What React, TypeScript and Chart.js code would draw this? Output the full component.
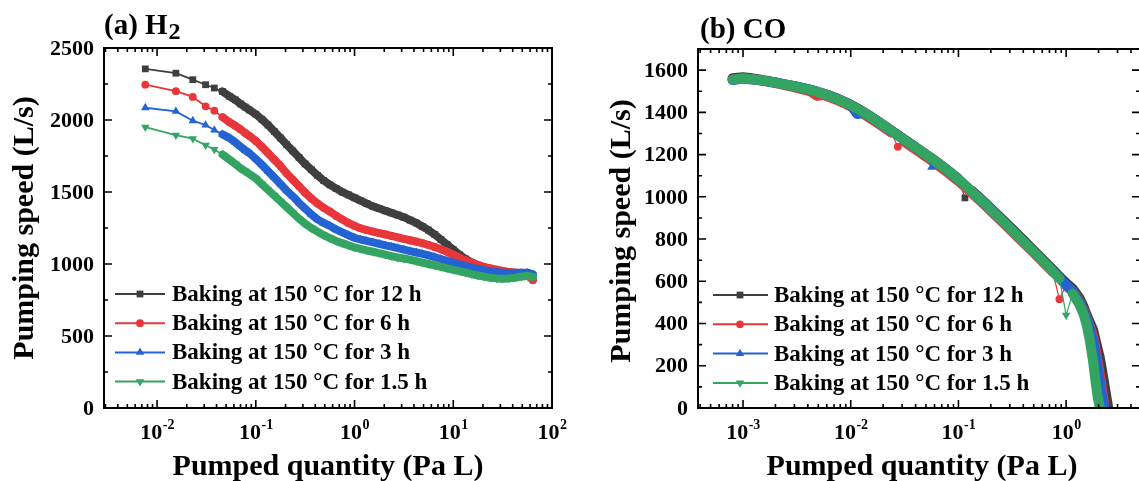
import React, { useEffect, useRef } from "react";
import { Chart, registerables } from "chart.js";

Chart.register(...registerables);

// ---------- shared series info ----------
const SERIES_LABELS = [
  "Baking at 150 °C for 12 h",
  "Baking at 150 °C for 6 h",
  "Baking at 150 °C for 3 h",
  "Baking at 150 °C for 1.5 h",
];
const COLORS = ["#3f3f3f", "#e8363b", "#2463d2", "#34a463"];
const POINT_STYLES = ["rect", "circle", "triangle", "triangle"];
const POINT_ROTATION = [0, 0, 0, 180];
const POINT_RADIUS = [4.8, 3.9, 4.9, 4.9];

// ---------- (a) H2 ----------
const H2_X = [
  0.0076, 0.0155, 0.023, 0.031, 0.038, 0.046, 0.054, 0.062, 0.07, 0.078, 0.086,
  0.1, 0.115, 0.133, 0.154, 0.178, 0.205, 0.237, 0.274, 0.316, 0.365, 0.422, 0.487, 0.562, 0.649, 0.75, 0.866,
  1, 1.15, 1.33, 1.54, 1.78, 2.05, 2.37, 2.74, 3.16, 3.65, 4.22, 4.87, 5.62, 6.49, 7.5, 8.66,
  10, 11.5, 13.3, 15.4, 17.8, 20.5, 23.7, 27.4, 31.6, 36.5, 42.2, 48.7, 56.2,
  64,
];
const H2_12H = [
  2355, 2325, 2280, 2245, 2222, 2198, 2165, 2140, 2112, 2090, 2070,
  2040, 2005, 1965, 1920, 1875, 1830, 1785, 1740, 1695, 1655, 1615, 1580, 1550, 1525, 1500, 1480,
  1460, 1440, 1420, 1400, 1385, 1370, 1355, 1340, 1325, 1305, 1285, 1260, 1235, 1205, 1170, 1135,
  1100, 1065, 1035, 1010, 990, 975, 963, 955, 948, 943, 940, 940, 938,
  920,
];
const H2_6H = [
  2245, 2200, 2160, 2095, 2065, 2020, 1985, 1960, 1935, 1910, 1890,
  1855, 1815, 1770, 1725, 1680, 1630, 1585, 1540, 1495, 1455, 1420, 1390, 1365, 1335, 1310, 1285,
  1265, 1248, 1235, 1225, 1215, 1205, 1195, 1185, 1175, 1165, 1155, 1145, 1132, 1118, 1102, 1085,
  1065, 1045, 1025, 1008, 993, 980, 970, 960, 952, 945, 940, 935, 925,
  888,
];
const H2_3H = [
  2085, 2060, 1995, 1965, 1930, 1900, 1875, 1845, 1815, 1790, 1770,
  1730, 1690, 1645, 1600, 1555, 1510, 1470, 1425, 1385, 1345, 1310, 1285, 1265, 1240, 1220, 1200,
  1182, 1170, 1160, 1150, 1140, 1130, 1120, 1110, 1100, 1090, 1080, 1070, 1060, 1048, 1035, 1022,
  1010, 998, 985, 975, 965, 955, 948, 942, 938, 935, 935, 938, 940,
  928,
];
const H2_15H = [
  1950, 1895, 1870, 1825, 1795, 1760, 1725, 1695, 1665, 1645, 1625,
  1595, 1555, 1515, 1475, 1435, 1395, 1355, 1315, 1280, 1250, 1225, 1200, 1180, 1160, 1145, 1130,
  1115, 1105, 1095, 1085, 1075, 1065, 1055, 1045, 1038, 1030, 1020, 1010, 1000, 990, 980, 970,
  960, 950, 940, 930, 920, 912, 905, 900, 898, 900, 905, 912, 918,
  910,
];
const H2_Y_TICKS = [0, 500, 1000, 1500, 2000, 2500];
const H2_X_DECADES = [-2, -1, 0, 1, 2];

// ---------- (b) CO ----------
const CO_X = [
  0.0008,
  0.001, 0.00115, 0.00133, 0.00154, 0.00178, 0.00205, 0.00237, 0.00274, 0.00316, 0.00365, 0.00422, 0.00487, 0.00562, 0.00649, 0.0075, 0.00866,
  0.01, 0.0115, 0.0133, 0.0154, 0.0178, 0.0205, 0.0237, 0.0274, 0.0316, 0.0365, 0.0422, 0.0487, 0.0562, 0.0649, 0.075, 0.0866,
  0.1, 0.115, 0.133, 0.154, 0.178, 0.205, 0.237, 0.274, 0.316, 0.365, 0.422, 0.487, 0.562, 0.649, 0.75, 0.866,
  1.0,
  1.15, 1.33, 1.45, 1.55, 1.66, 1.78, 1.86, 1.95, 2.05, 2.15, 2.25, 2.35, 2.45,
];
const CO_12H = [
  1562,
  1566, 1563, 1558, 1552, 1547, 1541, 1534, 1528, 1522, 1515, 1507, 1498, 1488, 1478, 1465, 1451,
  1436, 1419, 1400, 1380, 1359, 1337, 1315, 1293, 1271, 1249, 1227, 1205, 1183, 1160, 1136, 1111,
  1085, 995, 1029, 1000, 970, 940, 909, 878, 847, 815, 784, 752, 720, 688, 656, 622,
  592,
  565, 520, 480, 440, 405, 370, 330, 285, 240, 180, 120, 60, 5,
];
const CO_6H = [
  1555,
  1562, 1558, 1554, 1549, 1543, 1537, 1530, 1523, 1516, 1508, 1499, 1478, 1482, 1470, 1458, 1444,
  1428, 1410, 1391, 1370, 1349, 1327, 1305, 1237, 1260, 1238, 1216, 1194, 1172, 1149, 1125, 1100,
  1075, 1047, 1018, 988, 958, 928, 897, 866, 835, 803, 772, 741, 709, 677, 645, 515,
  580,
  555, 505, 465, 425, 385, 340, 290, 230, 160, 90, 25,
];
const CO_3H = [
  1553,
  1560, 1557, 1554, 1550, 1545, 1540, 1534, 1528, 1522, 1515, 1507, 1498, 1488, 1477, 1464, 1450,
  1435, 1392, 1398, 1378, 1357, 1335, 1313, 1291, 1269, 1247, 1225, 1203, 1140, 1158, 1134, 1109,
  1083, 1055, 1025, 995, 965, 934, 903, 871, 840, 808, 776, 745, 713, 681, 648, 615,
  582,
  552, 502, 460, 420, 375, 320, 265, 200, 130, 60, 5,
];
const CO_15H = [
  1555,
  1560, 1558, 1555, 1550, 1545, 1540, 1533, 1527, 1521, 1514, 1506, 1497, 1487, 1476, 1463, 1449,
  1434, 1417, 1398, 1378, 1357, 1335, 1313, 1291, 1269, 1247, 1225, 1203, 1181, 1158, 1134, 1109,
  1083, 1055, 1025, 995, 965, 934, 903, 871, 840, 808, 776, 745, 713, 681, 648, 614,
  440,
  542, 490, 445, 395, 320, 220, 140, 60, 5,
];
const CO_Y_TICKS = [0, 200, 400, 600, 800, 1000, 1200, 1400, 1600];
const CO_X_DECADES = [-3, -2, -1, 0];

const X_TITLE = "Pumped quantity (Pa L)";
const Y_TITLE = "Pumping speed (L/s)";
const FONT = "'Liberation Serif', 'Times New Roman', serif";

type Panel = {
  left: number;
  width: number;
  canvasW: number;
  padding: { left: number; right: number; top: number; bottom: number };
  xMin: number;
  xMax: number;
  yMax: number;
  yMinorStep: number;
  yTicks: number[];
  decades: number[];
  xs: number[];
  series: number[][];
  denseGap: number;
  bandWidth: number;
  titleMain: string;
  titleSub: string;
  titleX: number;
  titleY: number;
  yTitleX: number;
  yTitleY: number;
  xTitleX: number;
  xTitleY: number;
  legend: { x1: number; x2: number; xm: number; xt: number; y0: number; dy: number };
};

// deviation of point k from the mean of its neighbours
function localDev(ys: number[], k: number): number {
  if (k <= 0 || k >= ys.length - 1) return 0;
  return Math.abs(ys[k] - (ys[k - 1] + ys[k + 1]) / 2);
}
// an isolated point that sits away from the band (drawn without the thick band stroke)
function isIsolated(ys: number[], k: number): boolean {
  const d = localDev(ys, k);
  return d > 38 && d >= localDev(ys, k - 1) && d >= localDev(ys, k + 1);
}

function drawMarker(ctx: CanvasRenderingContext2D, style: string, x: number, y: number, r: number, rotDeg: number) {
  ctx.beginPath();
  if (style === "circle") {
    ctx.arc(x, y, r, 0, Math.PI * 2);
  } else if (style === "rect") {
    const s = r * Math.SQRT1_2;
    ctx.rect(x - s, y - s, 2 * s, 2 * s);
  } else {
    let rad = (rotDeg * Math.PI) / 180;
    ctx.moveTo(x + Math.sin(rad) * r, y - Math.cos(rad) * r);
    rad += (2 * Math.PI) / 3;
    ctx.lineTo(x + Math.sin(rad) * r, y - Math.cos(rad) * r);
    rad += (2 * Math.PI) / 3;
    ctx.lineTo(x + Math.sin(rad) * r, y - Math.cos(rad) * r);
    ctx.closePath();
  }
  ctx.fill();
}

function framePlugin(p: Panel) {
  return {
    id: "frame",
    afterDraw(chart: any) {
      const ctx: CanvasRenderingContext2D = chart.ctx;
      const { left, right, top, bottom } = chart.chartArea;
      const xs = chart.scales.x;
      const ys = chart.scales.y;
      ctx.save();
      ctx.strokeStyle = "#000";
      ctx.lineWidth = 2;
      ctx.strokeRect(left, top, right - left, bottom - top);

      const MAJ = 8;
      const MIN = 4;
      ctx.lineWidth = 1.6;
      ctx.beginPath();
      for (let d = Math.floor(Math.log10(p.xMin)); d <= Math.ceil(Math.log10(p.xMax)); d++) {
        for (let m = 1; m <= 9; m++) {
          const v = m * Math.pow(10, d);
          if (v < p.xMin || v > p.xMax) continue;
          const px = xs.getPixelForValue(v);
          const len = m === 1 ? MAJ : MIN;
          ctx.moveTo(px, bottom);
          ctx.lineTo(px, bottom - len);
          ctx.moveTo(px, top);
          ctx.lineTo(px, top + len);
        }
      }
      for (let v = 0; v <= p.yMax + 0.001; v += p.yMinorStep) {
        const py = ys.getPixelForValue(v);
        const len = p.yTicks.includes(v) ? MAJ : MIN;
        ctx.moveTo(left, py);
        ctx.lineTo(left + len, py);
        ctx.moveTo(right, py);
        ctx.lineTo(right - len, py);
      }
      ctx.stroke();

      ctx.fillStyle = "#000";
      ctx.font = `bold 22px ${FONT}`;
      ctx.textAlign = "right";
      ctx.textBaseline = "middle";
      for (const v of p.yTicks) {
        ctx.fillText(String(v), left - 10, ys.getPixelForValue(v) + 1);
      }
      ctx.textBaseline = "alphabetic";
      ctx.textAlign = "left";
      for (const d of p.decades) {
        const px = xs.getPixelForValue(Math.pow(10, d));
        ctx.font = `bold 22px ${FONT}`;
        const w1 = ctx.measureText("10").width;
        ctx.font = `bold 14px ${FONT}`;
        const exp = String(d);
        const w2 = ctx.measureText(exp).width;
        const x0 = px - (w1 + w2) / 2;
        ctx.font = `bold 22px ${FONT}`;
        ctx.fillText("10", x0, 439);
        ctx.font = `bold 14px ${FONT}`;
        ctx.fillText(exp, x0 + w1 + 0.5, 429);
      }
      ctx.font = `bold 30px ${FONT}`;
      ctx.textAlign = "center";
      ctx.textBaseline = "alphabetic";
      ctx.fillText(X_TITLE, p.xTitleX, p.xTitleY);
      ctx.save();
      ctx.translate(p.yTitleX, p.yTitleY);
      ctx.rotate(-Math.PI / 2);
      ctx.textBaseline = "middle";
      ctx.fillText(Y_TITLE, 0, 0);
      ctx.restore();
      ctx.textAlign = "left";
      ctx.textBaseline = "alphabetic";
      ctx.font = `bold 29px ${FONT}`;
      ctx.fillText(p.titleMain, p.titleX, p.titleY);
      if (p.titleSub) {
        const w = ctx.measureText(p.titleMain).width;
        ctx.font = `bold 24px ${FONT}`;
        ctx.fillText(p.titleSub, p.titleX + w + 1, p.titleY + 5);
      }
      const L = p.legend;
      for (let i = 0; i < SERIES_LABELS.length; i++) {
        const y = L.y0 + i * L.dy;
        ctx.strokeStyle = COLORS[i];
        ctx.fillStyle = COLORS[i];
        ctx.lineWidth = 2;
        ctx.beginPath();
        ctx.moveTo(L.x1, y);
        ctx.lineTo(L.x2, y);
        ctx.stroke();
        drawMarker(ctx, POINT_STYLES[i], L.xm, y, POINT_RADIUS[i], POINT_ROTATION[i]);
        ctx.fillStyle = "#000";
        ctx.font = `bold 23px ${FONT}`;
        ctx.textBaseline = "middle";
        ctx.fillText(SERIES_LABELS[i], L.xt, y + 1);
      }
      ctx.restore();
    },
  };
}

function PanelChart({ p }: { p: Panel }) {
  const ref = useRef<HTMLCanvasElement | null>(null);
  useEffect(() => {
    if (!ref.current) return;
    const datasets = p.series.map((ys, i) => ({
      label: SERIES_LABELS[i],
      data: ys.map((y, j) => ({ x: p.xs[j], y })),
      borderColor: COLORS[i],
      backgroundColor: COLORS[i],
      borderWidth: 1.8,
      borderJoinStyle: "round",
      borderCapStyle: "round",
      segment: {
        borderWidth: (sc: any) => {
          const dx = Math.abs(sc.p1.x - sc.p0.x);
          if (isIsolated(ys, sc.p0DataIndex) || isIsolated(ys, sc.p1DataIndex)) return 1.2;
          return dx < p.denseGap ? p.bandWidth : 1.8;
        },
      },
      pointStyle: POINT_STYLES[i],
      pointRotation: POINT_ROTATION[i],
      pointRadius: POINT_RADIUS[i],
      pointBorderWidth: 0,
      pointBackgroundColor: COLORS[i],
      order: 3 - i,
      tension: 0,
    }));
    const chart = new Chart(ref.current, {
      type: "line",
      data: { datasets: datasets as any },
      options: {
        responsive: false,
        animation: false,
        events: [],
        layout: { padding: p.padding },
        plugins: { legend: { display: false }, tooltip: { enabled: false }, title: { display: false } },
        scales: {
          x: { type: "logarithmic", min: p.xMin, max: p.xMax, display: false },
          y: { type: "linear", min: 0, max: p.yMax, display: false },
        },
      },
      plugins: [framePlugin(p)],
    });
    return () => chart.destroy();
  }, [p]);
  return (
    <div
      style={{
        position: "absolute",
        left: p.left,
        top: 0,
        width: p.width,
        height: 481,
        overflow: "hidden",
        background: "#fff",
      }}
    >
      <canvas ref={ref} width={p.canvasW} height={481} style={{ display: "block" }} />
    </div>
  );
}

const PANEL_A: Panel = {
  left: 0,
  width: 580,
  canvasW: 580,
  padding: { left: 104, right: 28, top: 48, bottom: 73 },
  xMin: 0.0029,
  xMax: 100,
  yMax: 2500,
  yMinorStep: 250,
  yTicks: H2_Y_TICKS,
  decades: H2_X_DECADES,
  xs: H2_X,
  series: [H2_12H, H2_6H, H2_3H, H2_15H],
  denseGap: 7.5,
  bandWidth: 8,
  titleMain: "(a) H",
  titleSub: "2",
  titleX: 104,
  titleY: 34,
  yTitleX: 25,
  yTitleY: 228,
  xTitleX: 328,
  xTitleY: 475,
  legend: { x1: 115, x2: 165, xm: 140, xt: 172, y0: 294, dy: 29.2 },
};

const PANEL_B: Panel = {
  left: 580,
  width: 559,
  canvasW: 570,
  padding: { left: 118, right: 10, top: 49, bottom: 73 },
  xMin: 0.000382,
  xMax: 4.85,
  yMax: 1700,
  yMinorStep: 100,
  yTicks: CO_Y_TICKS,
  decades: CO_X_DECADES,
  xs: CO_X,
  series: [CO_12H, CO_6H, CO_3H, CO_15H],
  denseGap: 11,
  bandWidth: 10,
  titleMain: "(b) CO",
  titleSub: "",
  titleX: 120,
  titleY: 38,
  yTitleX: 42,
  yTitleY: 231,
  xTitleX: 342,
  xTitleY: 475,
  legend: { x1: 133, x2: 188, xm: 160, xt: 194, y0: 295, dy: 29.3 },
};

export default function App() {
  return (
    <div>
      <PanelChart p={PANEL_A} />
      <PanelChart p={PANEL_B} />
    </div>
  );
}
